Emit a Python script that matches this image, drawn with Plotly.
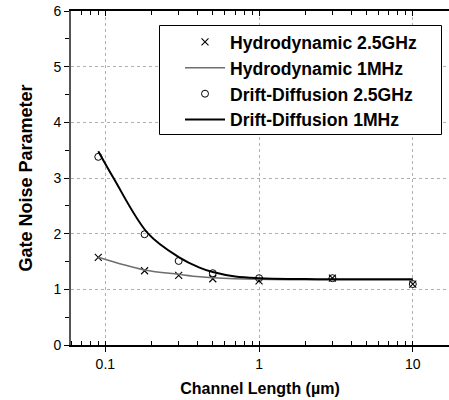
import numpy as np
import plotly.graph_objects as go

# Data
L_pts = [0.09, 0.18, 0.3, 0.5, 1, 3, 10]
hd_25ghz = [1.575, 1.334, 1.25, 1.19, 1.15, 1.2, 1.095]
dd_25ghz = [3.38, 1.99, 1.51, 1.29, 1.2, 1.2, 1.095]

hd_1mhz_x = [0.09, 0.18, 0.3, 0.41, 0.5, 1, 3, 10]
hd_1mhz_y = [1.575, 1.347, 1.27, 1.227, 1.21, 1.18, 1.17, 1.17]

dd_1mhz_x = [0.09, 0.113, 0.19, 0.3, 0.41, 0.5, 0.7, 1, 2, 3, 10]
dd_1mhz_y = [3.48, 3.0, 2.0, 1.58, 1.39, 1.31, 1.23, 1.2, 1.185, 1.18, 1.18]

FONT = "Arial, Liberation Sans, sans-serif"

fig = go.Figure()
fig.add_trace(go.Scatter(
    x=L_pts, y=hd_25ghz, mode="markers", name="Hydrodynamic 2.5GHz",
    marker=dict(symbol="x-thin-open", size=7, color="black", line=dict(width=1.1, color="black"))))
fig.add_trace(go.Scatter(
    x=hd_1mhz_x, y=hd_1mhz_y, mode="lines", name="Hydrodynamic 1MHz",
    line=dict(color="#6e6e6e", width=1.5, shape="spline", smoothing=1.0)))
fig.add_trace(go.Scatter(
    x=L_pts, y=dd_25ghz, mode="markers", name="Drift-Diffusion 2.5GHz",
    marker=dict(symbol="circle-open", size=7, color="black", line=dict(width=1, color="black"))))
fig.add_trace(go.Scatter(
    x=dd_1mhz_x, y=dd_1mhz_y, mode="lines", name="Drift-Diffusion 1MHz",
    line=dict(color="black", width=2, shape="spline", smoothing=1.0)))
# invisible trace to anchor top axis
fig.add_trace(go.Scatter(x=L_pts, y=hd_25ghz, xaxis="x2", mode="markers",
                         marker=dict(opacity=0), showlegend=False, hoverinfo="skip"))

xr = [np.log10(0.0598), np.log10(17.2)]

# legend box (paper coords: plot area x 71..449, y 11..345)
def px_x(p):
    return (p - 71) / 378.0
def px_y(p):
    return (345 - p) / 334.0

fig.add_shape(type="rect", xref="paper", yref="paper",
              x0=px_x(159.5), x1=px_x(441.5), y0=px_y(134.5), y1=px_y(25.5),
              line=dict(color="black", width=1), fillcolor="white", layer="above")

fig.update_layout(
    width=449, height=400,
    margin=dict(l=71, r=0, t=11, b=55),
    paper_bgcolor="white", plot_bgcolor="white",
    font=dict(family=FONT, size=14, color="black"),
    showlegend=True,
    legend=dict(
        x=px_x(180), y=px_y(24), xanchor="left", yanchor="top",
        borderwidth=0, bgcolor="rgba(0,0,0,0)",
        font=dict(family=FONT, size=17.6, color="black", weight="bold"),
        tracegroupgap=0, itemwidth=40,
    ),
    xaxis=dict(
        type="log", range=xr,
        tickvals=[0.1, 1, 10], ticktext=["0.1", "1", "10"],
        ticks="outside", ticklen=5, tickwidth=1, tickcolor="black",
        minor=dict(ticks="inside", ticklen=4, tickwidth=1, tickcolor="black", showgrid=False, dtick="D1"),
        showline=True, linecolor="black", linewidth=1.5,
        showgrid=True, gridcolor="#b0b0b0", griddash="dot", gridwidth=1,
        zeroline=False,
        title=dict(text="<b>Channel Length (µm)</b>", font=dict(family=FONT, size=16), standoff=12),
        tickfont=dict(family=FONT, size=14),
    ),
    xaxis2=dict(
        type="log", range=xr, overlaying="x", side="top",
        tickvals=[0.1, 1, 10], showticklabels=False,
        ticks="inside", ticklen=5, tickwidth=1, tickcolor="black",
        minor=dict(ticks="inside", ticklen=4, tickwidth=1, tickcolor="black", showgrid=False, dtick="D1"),
        showline=True, linecolor="black", linewidth=1.5,
        showgrid=False, zeroline=False,
    ),
    yaxis=dict(
        range=[0, 6], tickvals=[0, 1, 2, 3, 4, 5, 6],
        ticks="outside", ticklen=5, tickwidth=1, tickcolor="black",
        minor=dict(ticks="outside", ticklen=4, tickwidth=1, tickcolor="black", dtick=0.5, showgrid=False),
        showline=True, linecolor="#555555", linewidth=2,
        showgrid=True, gridcolor="#b0b0b0", griddash="dot", gridwidth=1,
        zeroline=False,
        title=dict(text="<b>Gate Noise Parameter</b>", font=dict(family=FONT, size=18), standoff=16),
        tickfont=dict(family=FONT, size=14),
    ),
)

fig.write_html("out.html")
